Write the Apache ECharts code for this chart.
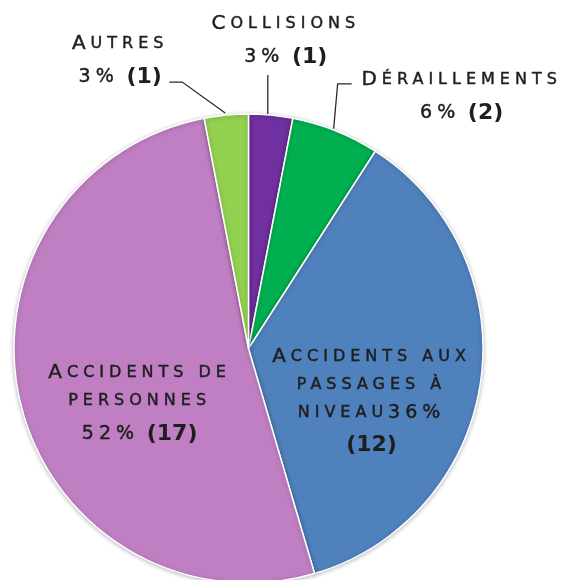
<!DOCTYPE html>
<html>
<head>
<meta charset="utf-8">
<script src="https://cdn.jsdelivr.net/npm/echarts@6/dist/echarts.min.js"></script>
<style>
  html, body { margin: 0; padding: 0; background: #ffffff; }
  #chart { width: 563px; height: 580px; }
</style>
</head>
<body>
<div id="chart"></div>
<script>
// ---- data ----
const categories = ['Collisions', 'Déraillements', 'Accidents aux\npassages à\nniveau', 'Accidents de\npersonnes', 'Autres'];
const counts = [1, 2, 12, 17, 1];

// ---- styles ----
const colors = ['#7030A0', '#00B050', '#4F81BD', '#BF7FC2', '#92D050'];

// wide spaced small-caps look: letter spacing for the regular label font
(function () {
  const P = window.CanvasRenderingContext2D && CanvasRenderingContext2D.prototype;
  if (!P || !('letterSpacing' in P)) return;
  const d = Object.getOwnPropertyDescriptor(P, 'font');
  if (!d || !d.set) return;
  Object.defineProperty(P, 'font', {
    configurable: true,
    get() { return d.get.call(this); },
    set(v) {
      d.set.call(this, v);
      this.letterSpacing = (/DejaVu Sans/.test(v) && !/bold/.test(v)) ? '5px' : '0px';
    }
  });
})();

function smallCaps(str) {
  let out = '';
  const re = /([A-ZÀ-ÖØ-Þ]+)|([^A-ZÀ-ÖØ-Þ]+)/g;
  let m;
  while ((m = re.exec(str))) {
    if (m[1]) out += '{b|' + m[1] + '}';
    else out += '{s|' + m[2].toUpperCase() + '}';
  }
  return out;
}

const FONT = 'DejaVu Sans';
const TXT = '#1e1e1e';
const common = { fontFamily: FONT, color: TXT, textBorderColor: TXT, textBorderWidth: 0.45, align: 'center' };
const rich = {
  b: Object.assign({}, common, { fontSize: 20, lineHeight: 28 }),
  s: Object.assign({}, common, { fontSize: 16, lineHeight: 28 }),
  n: Object.assign({}, common, { fontSize: 19, lineHeight: 28 }),
  p: { fontFamily: FONT, fontWeight: 'bold', fontSize: 22, color: TXT, lineHeight: 38, align: 'center' }
};

const data = categories.map((name, i) => ({
  name: name,
  value: counts[i],
  itemStyle: { color: colors[i] },
  label: { position: counts[i] >= 10 ? 'inside' : 'outside' },
  labelLine: { show: counts[i] < 10 }
}));

const chart = echarts.init(document.getElementById('chart'), null, { renderer: 'canvas' });
chart.setOption({
  animation: false,
  backgroundColor: '#ffffff',
  series: [{
    type: 'pie',
    center: [248.5, 348.5],
    radius: 234.5,
    startAngle: 90,
    clockwise: true,
    avoidLabelOverlap: false,
    percentPrecision: 0,
    minShowLabelAngle: 0,
    itemStyle: {
      borderColor: '#ffffff',
      borderWidth: 1.5,
      shadowBlur: 4,
      shadowColor: 'rgba(0,0,0,0.25)',
      shadowOffsetY: 1
    },
    emphasis: { disabled: true },
    label: {
      show: true,
      overflow: 'none',
      color: TXT,
      rich: rich,
      formatter: function (p) {
        const lines = p.name.split('\n').map(smallCaps);
        const pct = '{n|' + p.percent + '%}';
        if (lines.length >= 3) {
          lines[lines.length - 1] += pct;
          lines.push('{p|(' + p.value + ')}');
        } else {
          lines.push(pct + '{p| (' + p.value + ')}');
        }
        return lines.join('\n');
      }
    },
    labelLine: {
      show: true,
      length: 20,
      length2: 10,
      lineStyle: { color: '#2a2a2a', width: 1.3 }
    },
    labelLayout: function (params) {
      const i = params.dataIndex;
      const pts = params.labelLinePoints;
      if (i === 0 && pts) {
        const p0 = pts[0];
        return {
          x: p0[0] + 15, y: p0[1] - 105, align: 'center', verticalAlign: 'top',
          labelLinePoints: [[p0[0] - 3, p0[1]], [p0[0] - 3, p0[1] - 40]]
        };
      }
      if (i === 1 && pts) {
        const p0 = pts[0];
        return {
          x: p0[0] + 126, y: p0[1] - 65, align: 'center', verticalAlign: 'top',
          labelLinePoints: [[p0[0] - 2, p0[1] - 2], [p0[0] + 2, p0[1] - 47], [p0[0] + 16, p0[1] - 47]]
        };
      }
      if (i === 4 && pts) {
        const p0 = pts[0];
        return {
          x: p0[0] - 106, y: p0[1] - 85, align: 'center', verticalAlign: 'top',
          labelLinePoints: [[p0[0] - 1, p0[1] - 2], [p0[0] - 44, p0[1] - 33], [p0[0] - 57, p0[1] - 33]]
        };
      }
      if (i === 2) return { dx: 4, dy: 38 };
      if (i === 3) return { dx: 8, dy: 29 };
      return {};
    },
    data: data
  }]
});
</script>
</body>
</html>
